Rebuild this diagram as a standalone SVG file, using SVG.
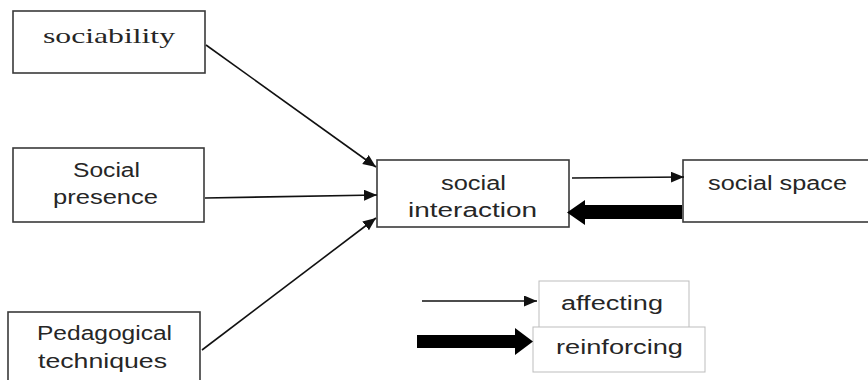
<svg xmlns="http://www.w3.org/2000/svg" width="868" height="380" viewBox="0 0 868 380">
<style>
.box{fill:#fff;stroke:#3a3a3a;stroke-width:1.6}
.lbox{fill:#fff;stroke:#bdbdbd;stroke-width:1}
.t{font-family:"Liberation Sans",Arial,sans-serif;font-size:20px;fill:#262626}
.ts{font-family:"Liberation Serif","Times New Roman",serif;font-size:22px;fill:#262626}
.ln{stroke:#111;stroke-width:1.6;fill:none;marker-end:url(#ah)}
.thick{fill:#000}
</style>
<defs>
<marker id="ah" markerUnits="userSpaceOnUse" markerWidth="14" markerHeight="12" refX="13" refY="5.5" orient="auto">
<path d="M0,0 L13,5.5 L0,11 z" fill="#111"/>
</marker>
</defs>
<rect width="868" height="380" fill="#fff"/>
<g id="sociability">
<rect class="box" x="13" y="11" width="192" height="62"/>
<text class="ts" x="43" y="43" textLength="132" lengthAdjust="spacingAndGlyphs">sociability</text>
</g>
<g id="social-presence">
<rect class="box" x="13" y="148" width="191" height="74"/>
<text class="t" x="73" y="177" textLength="67" lengthAdjust="spacingAndGlyphs">Social</text>
<text class="t" x="53" y="204" textLength="105" lengthAdjust="spacingAndGlyphs">presence</text>
</g>
<g id="pedagogical-techniques">
<rect class="box" x="8" y="312" width="192" height="80"/>
<text class="t" x="37" y="340" textLength="135" lengthAdjust="spacingAndGlyphs">Pedagogical</text>
<text class="t" x="38" y="368" textLength="129" lengthAdjust="spacingAndGlyphs">techniques</text>
</g>
<g id="social-interaction">
<rect class="box" x="377" y="160" width="192" height="67"/>
<text class="t" x="441" y="190" textLength="65" lengthAdjust="spacingAndGlyphs">social</text>
<text class="t" x="408" y="217" textLength="129" lengthAdjust="spacingAndGlyphs">interaction</text>
</g>
<g id="social-space">
<rect class="box" x="683" y="160" width="200" height="62"/>
<text class="t" x="708" y="190" textLength="139" lengthAdjust="spacingAndGlyphs">social space</text>
</g>
<g id="legend-affecting">
<rect class="lbox" x="539" y="281" width="150" height="50"/>
<text class="t" x="561" y="310" textLength="102" lengthAdjust="spacingAndGlyphs">affecting</text>
</g>
<g id="legend-reinforcing">
<rect class="lbox" x="533" y="327" width="172" height="45"/>
<text class="t" x="556" y="354" textLength="127" lengthAdjust="spacingAndGlyphs">reinforcing</text>
</g>
<g id="connectors">
<line class="ln" x1="206" y1="45" x2="376" y2="167"/>
<line class="ln" x1="205" y1="198" x2="377" y2="195"/>
<line class="ln" x1="202" y1="350" x2="376" y2="218"/>
<line class="ln" x1="572" y1="178" x2="684" y2="177"/>
<polygon class="thick" points="682,205 585,205 585,200 567,212.5 585,225 585,219 682,219"/>
<line class="ln" x1="422" y1="301" x2="537" y2="301"/>
<polygon class="thick" points="417,335 515,335 515,328 533,341.5 515,355 515,348 417,348"/>
</g>
</svg>
